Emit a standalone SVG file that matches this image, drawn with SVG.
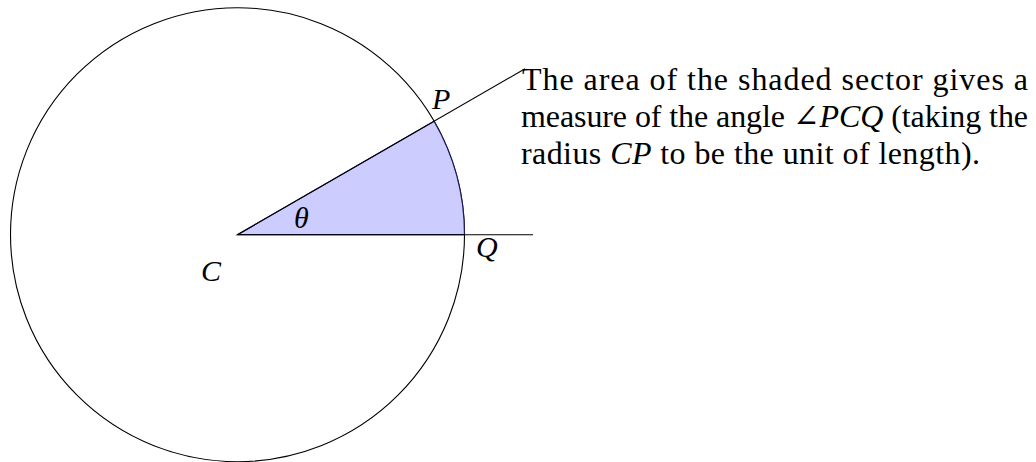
<svg xmlns="http://www.w3.org/2000/svg" width="1036" height="462" viewBox="0 0 1036 462">
<style>
.ln{fill:none;stroke:#000;stroke-width:1.1}
.txt{font-family:"Liberation Serif","DejaVu Serif",serif;font-size:32px;fill:#000}
.it{font-style:italic}
.lbl{font-family:"Liberation Serif","DejaVu Serif",serif;font-size:30px;font-style:italic;fill:#000}
</style>
<rect width="1036" height="462" fill="#fff"/>
<g id="circle">
<circle class="ln" cx="237.5" cy="234.7" r="227"/>
</g>
<g id="sector">
<path d="M237.5,234.7 L464.5,234.7 A227,227 0 0 0 434.1,121.2 Z" fill="#ccccff" stroke="#1a1a5e" stroke-width="1.2"/>
</g>
<g id="connectors">
<line class="ln" x1="237.5" y1="234.7" x2="525" y2="68.7"/>
<line class="ln" x1="237.5" y1="234.7" x2="533" y2="234.7"/>
</g>
<g id="labels">
<text class="lbl" x="432" y="109">P</text>
<text class="lbl" x="476" y="257">Q</text>
<text class="lbl" x="201" y="281">C</text>
<text class="lbl" x="294" y="228">θ</text>
</g>
<g id="caption">
<text class="txt" x="522" y="90" textLength="506" lengthAdjust="spacing">The area of the shaded sector gives a</text>
<text class="txt" x="521" y="127" textLength="507" lengthAdjust="spacing">measure of the angle ∠<tspan class="it">PCQ</tspan> (taking the</text>
<text class="txt" x="521" y="164" textLength="459" lengthAdjust="spacing">radius <tspan class="it">CP</tspan> to be the unit of length).</text>
</g>
</svg>
